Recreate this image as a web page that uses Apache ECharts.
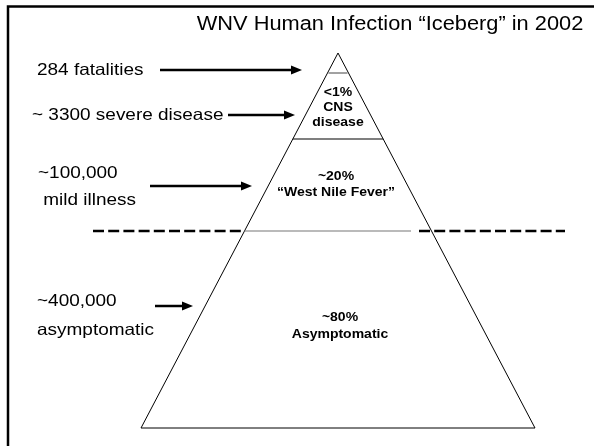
<!DOCTYPE html>
<html>
<head>
<meta charset="utf-8">
<script src="https://cdn.jsdelivr.net/npm/echarts@6/dist/echarts.min.js"></script>
<style>
html,body{margin:0;padding:0;background:#fff;}
#c{width:594px;height:446px;}
</style>
</head>
<body>
<div id="c"></div>
<script>
// ---- data ----
const titleText = 'WNV Human Infection \u201cIceberg\u201d in 2002';
const tierCounts = [['284 fatalities'], ['~ 3300 severe disease'], ['~100,000', ' mild illness'], ['~400,000', 'asymptomatic']];
const tierShares = [[], ['<1%', 'CNS', 'disease'], ['~20%', '\u201cWest Nile Fever\u201d'], ['~80%', 'Asymptomatic']];

// ---- layout (pixel space of a 1:1 hidden grid) ----
const apex = [338, 53];
const baseY = 428, baseHalf = 197;
const countPos = [[37, [70]], [32, [115]], [38, [173, 200]], [37, [301, 330]]];
const arrows = [[160, 302, 70], [228, 295, 115], [150, 252, 186], [155, 193, 306]];
const sharePos = [[0, []], [338, [93, 108, 123]], [336, [177, 193]], [340, [318, 335]]];

function edgeX(y, side) {
  const t = (y - apex[1]) / (baseY - apex[1]);
  return apex[0] + side * baseHalf * t;
}

function renderItem(params, api) {
  const c = (x, y) => api.coord([x, y]);
  const kids = [];
  const hline = (x1, x2, y, style) => {
    const a = c(x1, y), b = c(x2, y);
    kids.push({type:'line', shape:{x1:a[0], y1:a[1], x2:b[0], y2:b[1]}, style:style});
  };
  // border
  kids.push({type:'polyline', shape:{points:[c(8, 446), c(8, 6.5), c(594, 6.5)]}, style:{stroke:'#000', lineWidth:2.5, fill:null}});
  // pyramid
  kids.push({type:'polygon', shape:{points:[c(apex[0], apex[1]), c(apex[0]-baseHalf, baseY), c(apex[0]+baseHalf, baseY)]}, style:{stroke:'#000', lineWidth:1, fill:'#fff'}});
  // tier boundary lines
  hline(edgeX(73,-1)+1, edgeX(73,1)-1, 73, {stroke:'#444', lineWidth:1});
  hline(edgeX(139,-1), edgeX(139,1), 139, {stroke:'#000', lineWidth:1.2});
  hline(edgeX(231,-1), 411, 231, {stroke:'#777', lineWidth:1.2});
  // waterline (dashed)
  hline(93, edgeX(231,-1), 231, {stroke:'#000', lineWidth:2.5, lineDash:[11,4.2]});
  hline(419, 565, 231, {stroke:'#000', lineWidth:2.5, lineDash:[11,4.2]});
  // arrows
  arrows.forEach(a => {
    const p1 = c(a[0], a[2]), p2 = c(a[1]-10, a[2]), tip = c(a[1], a[2]);
    kids.push({type:'line', shape:{x1:p1[0], y1:p1[1], x2:p2[0], y2:p2[1]}, style:{stroke:'#000', lineWidth:2.5}});
    kids.push({type:'polygon', shape:{points:[tip, [tip[0]-11, tip[1]-4.5], [tip[0]-11, tip[1]+4.5]]}, style:{fill:'#000'}});
  });
  // count labels
  tierCounts.forEach((lines, i) => {
    lines.forEach((t, j) => {
      const p = c(countPos[i][0], countPos[i][1][j]);
      kids.push({type:'text', x:p[0], y:p[1], scaleX:1.15, style:{text:t, fill:'#000', font:'16.5px Arial, "Liberation Sans", sans-serif', textAlign:'left', textVerticalAlign:'middle'}});
    });
  });
  // share labels
  tierShares.forEach((lines, i) => {
    lines.forEach((t, j) => {
      const p = c(sharePos[i][0], sharePos[i][1][j]);
      kids.push({type:'text', x:p[0], y:p[1], scaleX:1.12, style:{text:t, fill:'#000', font:'bold 12.5px Arial, "Liberation Sans", sans-serif', textAlign:'center', textVerticalAlign:'middle'}});
    });
  });
  // title
  const tp = c(390, 24);
  kids.push({type:'text', x:tp[0], y:tp[1], scaleX:1.09, style:{text:titleText, fill:'#000', font:'20px Arial, "Liberation Sans", sans-serif', textAlign:'center', textVerticalAlign:'middle'}});
  return {type:'group', children:kids};
}

const chart = echarts.init(document.getElementById('c'), null, {renderer:'canvas'});
chart.setOption({
  animation:false,
  grid:{left:0, right:0, top:0, bottom:0},
  xAxis:{type:'value', min:0, max:594, show:false},
  yAxis:{type:'value', min:0, max:446, inverse:true, show:false},
  series:[{type:'custom', renderItem:renderItem, data:[[0,0]], silent:true, clip:false}]
});
</script>
</body>
</html>
